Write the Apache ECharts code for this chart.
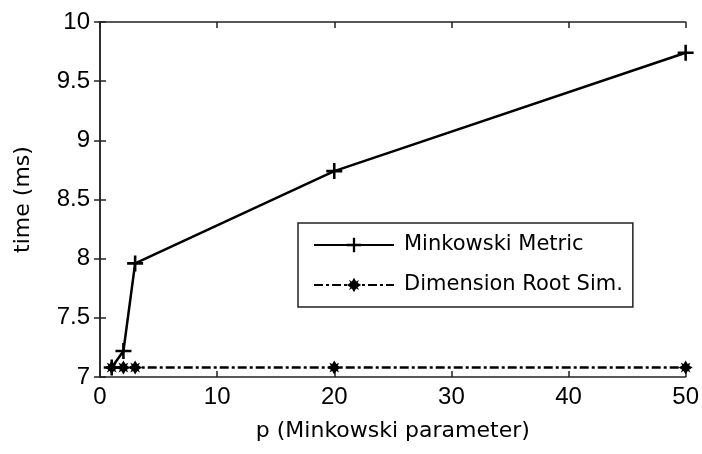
<!DOCTYPE html>
<html><head><meta charset="utf-8">
<script src="https://cdn.jsdelivr.net/npm/echarts@6/dist/echarts.min.js"></script>
<style>html,body{margin:0;padding:0;background:#fff}#c{width:702px;height:454px}</style>
</head><body><div id="c"></div>
<script>
const pValues = [1, 2, 3, 20, 50];
const minkowski = [7.08, 7.22, 7.96, 8.74, 9.74];
const dimRoot = [7.08, 7.08, 7.08, 7.08, 7.08];
const xTicks = [0, 10, 20, 30, 40, 50];
const yTicks = [7, 7.5, 8, 8.5, 9, 9.5, 10];
const seriesNames = ['Minkowski Metric', 'Dimension Root Sim.'];

const TFONT = '"DejaVu Sans", "Liberation Sans", sans-serif';
const NFONT = '"Liberation Sans", sans-serif';
const plusPath = 'path://M-1.6,-10L1.6,-10L1.6,-1.6L10,-1.6L10,1.6L1.6,1.6L1.6,10L-1.6,10L-1.6,1.6L-10,1.6L-10,-1.6L-1.6,-1.6Z';
const starPath = 'path://M0,-10L3,-5L7,-7L5,-3L10,0L5,3L7,7L3,5L0,10L-3,5L-7,7L-5,3L-10,0L-5,-3L-7,-7L-3,-5Z';

const chart = echarts.init(document.getElementById('c'), null, {renderer: 'canvas'});
const axisLine = {show: true, lineStyle: {color: '#222', width: 1.5}};
const tick = {show: true, inside: true, length: 6, lineStyle: {color: '#222', width: 1.5}};
chart.setOption({
  animation: false,
  backgroundColor: '#fff',
  grid: {left: 100, right: 12, top: 22, bottom: 77, containLabel: false},
  legend: {
    orient: 'vertical', left: 298, top: 223,
    backgroundColor: '#fff', borderColor: '#222', borderWidth: 1.5,
    padding: [11, 10, 11, 15], itemWidth: 80, itemHeight: 18, itemGap: 18,
    textStyle: {fontFamily: TFONT, fontSize: 21, lineHeight: 22, color: '#000', padding: [0, 0, 0, 5]},
    data: seriesNames
  },
  xAxis: [{
    type: 'value', min: 0, max: 50, interval: 10,
    name: 'p (Minkowski parameter)', nameLocation: 'middle', nameGap: 43,
    nameTextStyle: {fontFamily: TFONT, fontSize: 22, color: '#000'},
    axisLine: axisLine, axisTick: tick, splitLine: {show: false},
    axisLabel: {fontFamily: NFONT, fontSize: 24, color: '#000', margin: 8,
      customValues: xTicks}
  }, {
    type: 'value', position: 'top', min: 0, max: 50, interval: 10,
    axisLine: axisLine, axisTick: tick, axisLabel: {show: false}, splitLine: {show: false}
  }],
  yAxis: [{
    type: 'value', min: 7, max: 10, interval: 0.5,
    name: 'time (ms)', nameLocation: 'middle', nameGap: 66, nameRotate: 90,
    nameTextStyle: {fontFamily: TFONT, fontSize: 22, color: '#000'},
    axisLine: axisLine, axisTick: tick, splitLine: {show: false},
    axisLabel: {fontFamily: NFONT, fontSize: 24, color: '#000', margin: 10,
      customValues: yTicks}
  }, {
    type: 'value', position: 'right', min: 7, max: 10, interval: 0.5,
    axisLine: axisLine, axisTick: tick, axisLabel: {show: false}, splitLine: {show: false}
  }],
  series: [{
    name: seriesNames[0], type: 'line',
    data: pValues.map((p, i) => [p, minkowski[i]]),
    symbol: plusPath, symbolSize: 16, showSymbol: true,
    itemStyle: {color: '#000'},
    lineStyle: {color: '#000', width: 2.5}
  }, {
    name: seriesNames[1], type: 'line',
    data: pValues.map((p, i) => [p, dimRoot[i]]),
    symbol: starPath, symbolSize: 14, showSymbol: true,
    itemStyle: {color: '#000'},
    lineStyle: {color: '#000', width: 2.5, type: [9, 3, 3, 3]}
  }]
});
</script></body></html>
